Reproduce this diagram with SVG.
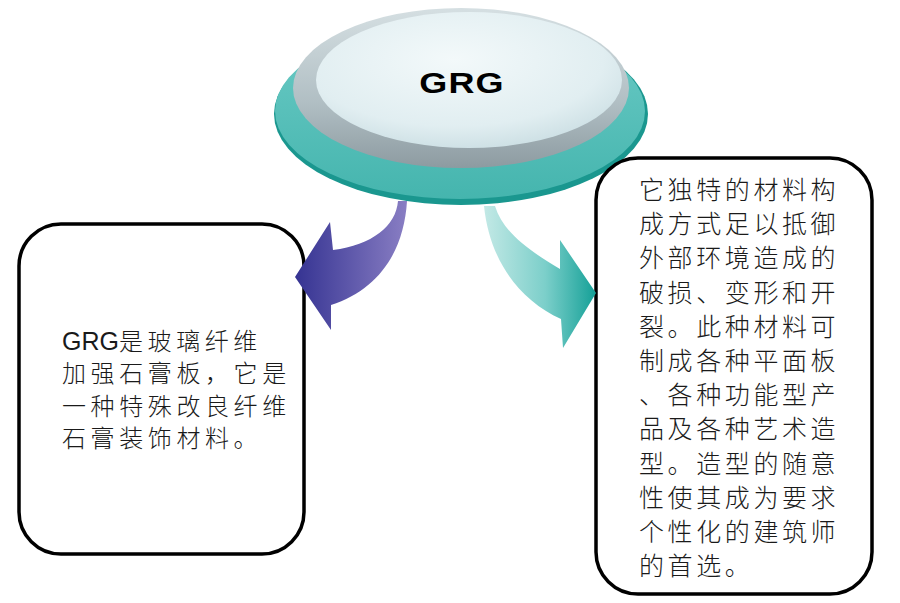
<svg xmlns="http://www.w3.org/2000/svg" width="900" height="603" viewBox="0 0 900 603">
<defs>
<style>
.box{fill:#fff;stroke:#000;stroke-width:3.5}
.t{font-family:"Noto Sans CJK SC","Liberation Sans",sans-serif;font-size:25px;font-weight:300;fill:#1a1a1a;letter-spacing:3.6px}
.s{font-size:24px;letter-spacing:4.6px}
.lat{font-family:"Liberation Sans","Noto Sans CJK SC",sans-serif;font-size:25px;font-weight:normal;letter-spacing:0}
.title{font-family:"Liberation Sans",Arial,sans-serif;font-size:30px;font-weight:bold;fill:#000;letter-spacing:1px}
</style>
<linearGradient id="teal" x1="0" y1="0" x2="0" y2="1">
<stop offset="0" stop-color="#6ccbc6"/>
<stop offset="1" stop-color="#45b5ae"/>
</linearGradient>
<linearGradient id="gray" x1="0" y1="0" x2="0" y2="1">
<stop offset="0" stop-color="#d5dfe2"/>
<stop offset="0.6" stop-color="#b0bec3"/>
<stop offset="1" stop-color="#8d9ba1"/>
</linearGradient>
<radialGradient id="face" cx="0.45" cy="0.35" r="0.7">
<stop offset="0" stop-color="#f3f9fa"/>
<stop offset="0.7" stop-color="#e1eef1"/>
<stop offset="1" stop-color="#c9dde2"/>
</radialGradient>
<linearGradient id="pg" gradientUnits="userSpaceOnUse" x1="295" y1="0" x2="408" y2="0">
<stop offset="0" stop-color="#353392"/>
<stop offset="1" stop-color="#8a7fc4"/>
</linearGradient>
<linearGradient id="tg" gradientUnits="userSpaceOnUse" x1="483" y1="0" x2="596" y2="0">
<stop offset="0" stop-color="#c4e9e6"/>
<stop offset="0.55" stop-color="#7ccfca"/>
<stop offset="1" stop-color="#14a097"/>
</linearGradient>
</defs>

<g id="node-left">
<rect class="box" x="19" y="224" width="285" height="330" rx="42" ry="42"/>
<text class="t s" x="62" y="350"><tspan class="lat">GRG</tspan>是玻璃纤维</text>
<text class="t s" x="62" y="382.3">加强石膏板，它是</text>
<text class="t s" x="62" y="414.6">一种特殊改良纤维</text>
<text class="t s" x="62" y="446.9">石膏装饰材料。</text>
</g>

<g id="node-grg">
<ellipse cx="461" cy="114" rx="187" ry="91" fill="#1a978f"/>
<ellipse cx="460" cy="111" rx="185" ry="88" fill="url(#teal)"/>
<ellipse cx="461" cy="88" rx="168" ry="80" fill="url(#gray)"/>
<ellipse cx="469" cy="80" rx="153" ry="68" fill="url(#face)"/>
<text class="title" text-anchor="middle" transform="translate(462,93) scale(1.2,1)">GRG</text>
</g>

<g id="node-right">
<rect class="box" x="596" y="158" width="276" height="436" rx="42" ry="42"/>
<text class="t" x="639" y="199">它独特的材料构</text>
<text class="t" x="639" y="233.2">成方式足以抵御</text>
<text class="t" x="639" y="267.4">外部环境造成的</text>
<text class="t" x="639" y="301.6">破损、变形和开</text>
<text class="t" x="639" y="335.8">裂。此种材料可</text>
<text class="t" x="639" y="370">制成各种平面板</text>
<text class="t" x="639" y="404.2">、各种功能型产</text>
<text class="t" x="639" y="438.4">品及各种艺术造</text>
<text class="t" x="639" y="472.6">型。造型的随意</text>
<text class="t" x="639" y="506.8">性使其成为要求</text>
<text class="t" x="639" y="541">个性化的建筑师</text>
<text class="t" x="639" y="575.2">的首选。</text>
</g>

<g id="connectors">
<path d="M398,201 C396,226 372,245 333,250 L330,222 L295,277 L331,330 L331,305 C378,290 404,252 407,201 Z" fill="url(#pg)"/>
<path d="M484,206 C490,262 520,300 561,319 L563,348 L596,293 L560,240 L560,269 C528,250 503,232 495,206 Z" fill="url(#tg)"/>
</g>
</svg>
